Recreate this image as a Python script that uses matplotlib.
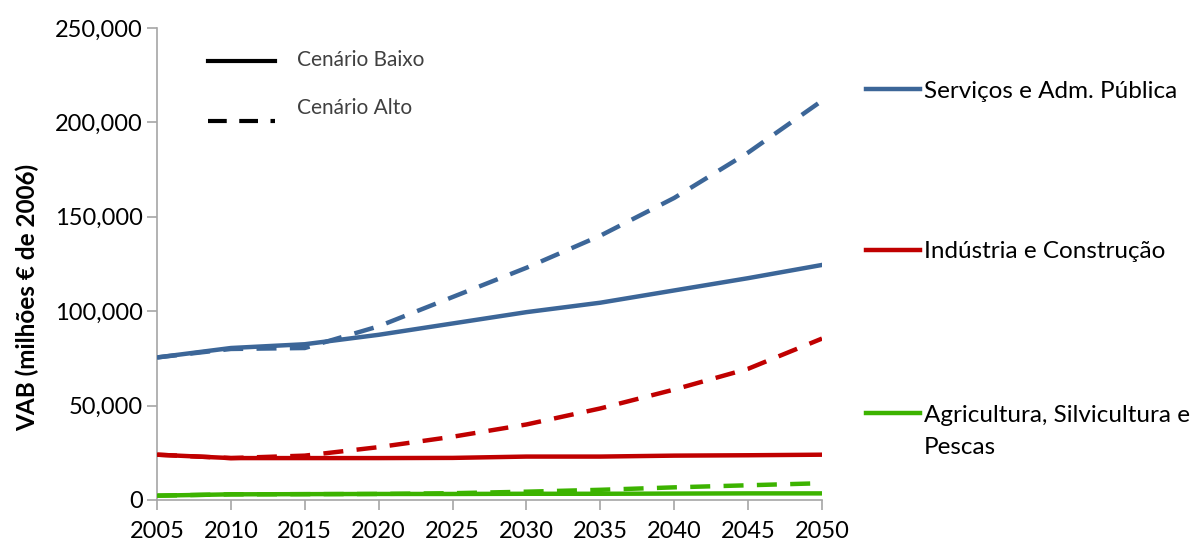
import matplotlib.pyplot as plt
from matplotlib.lines import Line2D
from matplotlib.ticker import FuncFormatter

plt.rcParams["font.family"] = ["Lato", "DejaVu Sans"]

YEARS = [2005, 2010, 2015, 2020, 2025, 2030, 2035, 2040, 2045, 2050]

# cenario baixo (solid) / cenario alto (dashed)
servicos_baixo = [75500, 80500, 82500, 87500, 93500, 99500, 104500, 111000, 117500, 124500]
servicos_alto = [75500, 80000, 80500, 92000, 107500, 123000, 140000, 160000, 184000, 211500]
industria_baixo = [24000, 22200, 22200, 22200, 22300, 23000, 23000, 23500, 23700, 24000]
industria_alto = [24000, 22200, 23500, 28000, 33500, 40000, 48500, 58500, 69500, 85500]
agricultura_baixo = [2300, 3000, 3100, 3200, 3200, 3300, 3300, 3400, 3500, 3500]
agricultura_alto = [2300, 3000, 3100, 3200, 3600, 4400, 5400, 6700, 7800, 8900]

SECTORS = ["Serviços e Adm. Pública", "Indústria e Construção", "Agricultura, Silvicultura e\nPescas"]
COLORS = ["#3C6698", "#C00000", "#3CB300"]
LABEL_Y = [89, 250, 413]  # pixel rows of the right-side label lines

W, H = 1197, 545
fig = plt.figure(figsize=(W / 100, H / 100), dpi=100)
ax = fig.add_axes([157 / W, 45 / H, 665 / W, 472 / H])

series = [
    (servicos_baixo, servicos_alto),
    (industria_baixo, industria_alto),
    (agricultura_baixo, agricultura_alto),
]
for (baixo, alto), color in zip(series, COLORS):
    ax.plot(YEARS, alto, color=color, lw=3.2, dashes=(4.5, 3), solid_capstyle="butt", zorder=2)
    ax.plot(YEARS, baixo, color=color, lw=3.2, zorder=3)

ax.set_xlim(2005, 2050)
ax.set_ylim(0, 250000)
ax.set_xticks(YEARS)
ax.set_yticks(range(0, 250001, 50000))
ax.yaxis.set_major_formatter(FuncFormatter(lambda v, p: f"{int(v):,}"))

for s in ["top", "right"]:
    ax.spines[s].set_visible(False)
for s in ["left", "bottom"]:
    ax.spines[s].set_color("#A6A6A6")
    ax.spines[s].set_linewidth(1.2)
ax.tick_params(axis="both", colors="#A6A6A6", length=7, width=1.2, labelcolor="black", labelsize=17)
ax.tick_params(axis="x", pad=8)
ax.tick_params(axis="y", pad=3)

# y axis title, placed by hand to sit a little below the axes centre like the original
fig.text(27 / W, 1 - 297 / H, "VAB (milhões € de 2006)", fontsize=17.5, fontweight="bold",
         rotation=90, ha="center", va="center")

# scenario legend (top left)
fig.add_artist(Line2D([208 / W, 275 / W], [1 - 61 / H] * 2, color="black", lw=3))
fig.add_artist(Line2D([208 / W, 275 / W], [1 - 121 / H] * 2, color="black", lw=3, dashes=(4.5, 3)))
fig.text(297 / W, 1 - 60 / H, "Cenário Baixo", fontsize=15, color="#404040", va="center")
fig.text(297 / W, 1 - 108 / H, "Cenário Alto", fontsize=15, color="#404040", va="center")

# sector labels (right)
for name, color, y in zip(SECTORS, COLORS, LABEL_Y):
    fig.add_artist(Line2D([866 / W, 920 / W], [1 - y / H] * 2, color=color, lw=3.2))
    for i, line in enumerate(name.split("\n")):
        fig.text(924 / W, 1 - (y + 2 + 32 * i) / H, line, fontsize=17.5, color="black", va="center")

fig.savefig("out.png", dpi=100)
